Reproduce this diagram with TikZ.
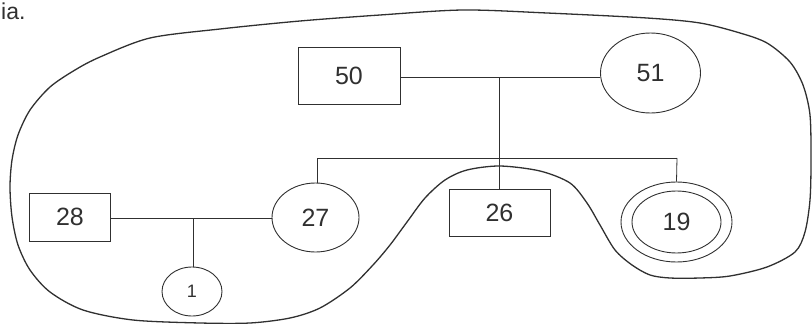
\documentclass[tikz,border=0pt]{standalone}
\usepackage{fontspec}
\setmainfont{Liberation Sans}
\usetikzlibrary{shapes.geometric}
\definecolor{ink}{HTML}{303030}
\tikzset{
  lbl/.style={font=\fontsize{25}{25}\selectfont, text=ink},
  boxnode/.style={draw=ink, line width=0.9pt, rectangle, inner sep=0pt, lbl},
  ellnode/.style={draw=ink, line width=0.9pt, ellipse, inner sep=0pt, lbl},
  link/.style={draw=ink, line width=0.8pt},
  outline/.style={draw=ink, line width=1.3pt}
}
\begin{document}
\begin{tikzpicture}[x=1pt,y=-1pt]
\useasboundingbox (0,0) rectangle (812,324);
% fragment of caption text
\node[anchor=base west, inner sep=0pt, font=\fontsize{23}{23}\selectfont, text=ink] (cap) at (1,19.5) {ia.};
% outer boundary
\draw[outline] plot[smooth cycle, tension=0.5] coordinates {
 (10,187) (12,160) (18,135) (30,110) (50,87) (75,70) (100,57) (150,38)
 (220,29) (300,21) (380,15) (463,10) (547,13) (647,18) (700,23) (740,33)
 (767,43) (790,62) (803,85) (810,115) (811,160) (810,200) (805,232)
 (795,252) (767,267) (730,276) (700,278) (670,278) (650,275) (632,265)
 (615,250) (600,225) (587,203) (570,183) (540,171) (500,166) (467,170)
 (445,180) (425,198) (407,222) (390,245) (373,265) (350,288) (320,308)
 (290,318) (250,323) (200,323) (133,320) (83,310) (50,292) (30,270)
 (18,245) (12,217)};
% nodes
\node[boxnode, minimum width=102pt, minimum height=57pt] (n50) at (349,75.5) {50};
\node[ellnode, minimum width=100pt, minimum height=80pt] (n51) at (650.5,73) {51};
\node[boxnode, minimum width=101pt, minimum height=47pt] (n26) at (499.5,212.5) {26};
\node[ellnode, minimum width=87pt, minimum height=69pt] (n27) at (315.5,217.5) {27};
\node[ellnode, minimum width=111pt, minimum height=80pt] (n19o) at (676.5,222) {};
\node[ellnode, minimum width=89pt, minimum height=62pt] (n19) at (676.5,222) {19};
\node[boxnode, minimum width=81pt, minimum height=48pt] (n28) at (70,217) {28};
\node[ellnode, minimum width=60pt, minimum height=49pt, font=\fontsize{18}{18}\selectfont] (n1) at (192,291.5) {1};
% junctions
\coordinate (j1) at (499.5,77);
\coordinate (jl) at (317,158);
\coordinate (jr) at (677,158);
\coordinate (j3) at (193,218);
% connectors
\draw[link] (j1 -| n50.east) -- (j1 -| n51.west);
\draw[link] (j1) -- (n26.north);
\draw[link] (jl) -- (jr);
\draw[link] (jl) -- (jl |- n27.north);
\draw[link] (jr) -- (n19o.north);
\draw[link] (j3 -| n28.east) -- (j3 -| n27.west);
\draw[link] (j3) -- (j3 |- n1.north);
\end{tikzpicture}
\end{document}
